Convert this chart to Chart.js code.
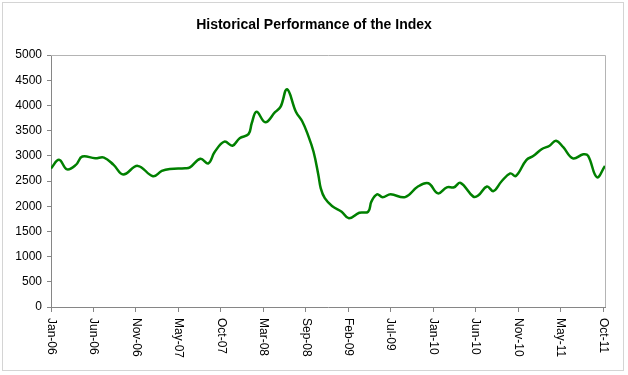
<!DOCTYPE html>
<html>
<head>
<meta charset="utf-8">
<script src="https://cdn.jsdelivr.net/npm/chart.js@4.4.0/dist/chart.umd.min.js"></script>
<style>
  body { margin: 0; background: #fff; }
</style>
</head>
<body>
<canvas id="indexChart" width="628" height="375"></canvas>
<script>
// months since Jan-06 for each reading, and the index level
var monthOffsets = [0, 1.0, 2.0, 3.1, 3.9, 5.5, 6.6, 7.8, 9.0, 10.8, 12.7, 13.8, 14.8, 16.7, 17.3, 18.6, 19.6, 20.4,
  21.6, 22.6, 23.5, 24.6, 25.0, 25.6, 26.7, 27.9, 28.6, 29.4, 30.5, 31.3, 32.0, 32.7, 33.3, 33.6, 34.1, 35.0,
  36.2, 37.1, 38.4, 39.5, 39.9, 40.6, 41.3, 42.3, 44.1, 45.7, 47.0, 48.2, 49.3, 50.2, 51.0, 52.6, 53.2, 54.3,
  55.1, 56.1, 57.2, 57.9, 59.2, 60.1, 61.1, 62.1, 62.9, 63.8, 65.0, 66.3, 66.9, 68.0, 69.0];
var indexValues = [2750, 2920, 2730, 2820, 2985, 2950, 2965, 2820, 2630, 2800, 2595, 2700, 2740, 2752, 2770, 2940, 2850, 3080,
  3280, 3200, 3350, 3430, 3645, 3875, 3665, 3865, 3975, 4320, 3875, 3680, 3415, 3080, 2620, 2355, 2160, 2005,
  1890, 1760, 1870, 1890, 2090, 2235, 2180, 2235, 2180, 2390, 2455, 2255, 2375, 2375, 2465, 2190, 2210, 2390,
  2300, 2490, 2650, 2600, 2915, 3000, 3130, 3200, 3300, 3170, 2950, 3030, 3000, 2575, 2800];
var tickLabels = ["Jan-06", "Jun-06", "Nov-06", "May-07", "Oct-07", "Mar-08", "Sep-08",
  "Feb-09", "Jul-09", "Jan-10", "Jun-10", "Nov-10", "May-11", "Oct-11"];
var tickStep = 5.29;

var font = 'Arial, "Liberation Sans", sans-serif';

var framePlugin = {
  id: 'framePlugin',
  beforeDraw: function(chart) {
    var ctx = chart.ctx;
    ctx.save();
    ctx.fillStyle = '#fff';
    ctx.fillRect(0, 0, chart.width, chart.height);
    ctx.strokeStyle = '#d4d4d4';
    ctx.lineWidth = 1;
    ctx.strokeRect(2.5, 2.5, 621, 368);
    ctx.restore();
  },
  afterDraw: function(chart) {
    var ctx = chart.ctx;
    var a = chart.chartArea;
    ctx.save();
    // top and right edge of the plot area
    ctx.strokeStyle = '#b4b4b4';
    ctx.lineWidth = 1;
    ctx.beginPath();
    ctx.moveTo(a.left, a.top + 0.5);
    ctx.lineTo(a.right + 0.5, a.top + 0.5);
    ctx.lineTo(a.right + 0.5, a.bottom);
    ctx.stroke();
    // rotated date labels, reading top to bottom
    var xs = chart.scales.x;
    ctx.fillStyle = '#000';
    ctx.font = '12px ' + font;
    ctx.textAlign = 'left';
    ctx.textBaseline = 'middle';
    tickLabels.forEach(function(lbl, i) {
      var px = xs.getPixelForValue(i * tickStep);
      ctx.save();
      ctx.translate(px, a.bottom + 11);
      ctx.rotate(Math.PI / 2);
      ctx.fillText(lbl, 0, 0);
      ctx.restore();
    });
    ctx.restore();
  }
};

new Chart("indexChart", {
  type: "line",
  data: {
    datasets: [{
      data: monthOffsets.map(function(m, i) { return { x: m, y: indexValues[i] }; }),
      borderColor: "#008000",
      borderWidth: 2.5,
      pointRadius: 0,
      tension: 0.4,
      fill: false
    }]
  },
  options: {
    responsive: false,
    animation: false,
    layout: { padding: 0 },
    plugins: {
      legend: { display: false },
      tooltip: { enabled: false },
      title: {
        display: true,
        text: "Historical Performance of the Index",
        color: "#000",
        font: { family: font, size: 14, weight: "bold", lineHeight: 1.2 },
        padding: { top: 17, bottom: 21.2 }
      }
    },
    scales: {
      x: {
        type: "linear",
        min: 0,
        max: 69,
        afterBuildTicks: function(scale) {
          scale.ticks = tickLabels.map(function(l, i) { return { value: i * tickStep }; });
        },
        afterFit: function(scale) { scale.height = 68; },
        ticks: { display: false },
        grid: { drawOnChartArea: false, drawTicks: true, tickLength: 5, color: "#868686" },
        border: { color: "#868686", width: 1 }
      },
      y: {
        min: 0,
        max: 5000,
        afterFit: function(scale) { scale.width = 51; },
        ticks: {
          stepSize: 500,
          padding: 5,
          color: "#000",
          font: { family: font, size: 12 },
          callback: function(v) { return String(v); }
        },
        grid: { drawOnChartArea: false, drawTicks: true, tickLength: 4, color: "#868686" },
        border: { color: "#868686", width: 1 }
      },
      // empty right-hand margin so the title stays centred on the canvas
      yRight: {
        position: "right",
        min: 0,
        max: 5000,
        afterFit: function(scale) { scale.width = 23; },
        ticks: { display: false },
        grid: { display: false },
        border: { display: false }
      }
    }
  },
  plugins: [framePlugin]
});
</script>
</body>
</html>
